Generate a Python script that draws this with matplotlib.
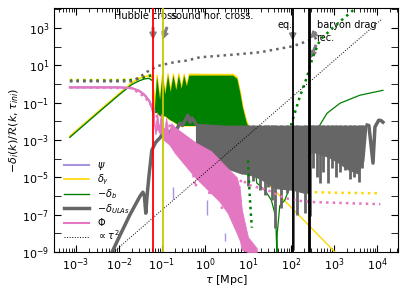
import numpy as np
import matplotlib.pyplot as plt
from matplotlib.ticker import NullFormatter

plt.rcParams['font.family'] = ['DejaVu Sans']
plt.rcParams['mathtext.fontset'] = 'dejavusans'

# ---- values ----
# k1 (solid), smooth early parts
early_tau = [7.2e-4, 3.6e-3, 0.01, 0.02, 0.03, 0.04, 0.05, 0.058]
dgamma_early = [1.6e-3, 0.04, 0.3, 1.2, 2.0, 2.5, 2.7, 2.3]
dbar_early = [1.4e-3, 0.035, 0.26, 0.95, 1.5, 1.9, 2.0, 1.6]

phi_tau = [7.2e-4, 0.01, 0.02, 0.03, 0.04, 0.05, 0.058, 0.064]
phi_val = [0.66, 0.66, 0.6, 0.42, 0.25, 0.13, 0.056, 0.027]

# acoustic oscillations: peaks / troughs, then envelope of the dense part
osc_tau = [0.058, 0.062, 0.066, 0.075, 0.088, 0.1, 0.117, 0.135, 0.155, 0.18,
           0.21, 0.24, 0.28, 0.32, 0.37, 0.42, 0.5, 1.0, 3.0, 4.4, 5.5, 6.5,
           7.4, 9.0, 10.5]
dbar_osc = [1.6, 0.5, 0.04, 2.6, 0.15, 3.1, 0.3, 3.1, 0.4, 3.0, 0.5, 3.0,
            0.6, 3.0, 0.8, 3.0, 3.0, 3.0, 3.0, 3.0, 2.0, 0.33, 0.06, 0.01, 4e-3]
dgamma_osc = [2.3, 0.6, 0.05, 3.2, 0.18, 3.8, 0.35, 3.8, 0.5, 3.7, 0.6, 3.7,
              0.7, 3.6, 0.9, 3.6, 3.6, 3.5, 3.5, 3.5, 2.4, 0.4, 0.07, 0.012, 5e-3]
osc_low = [1.6, 0.5, 0.03, 0.03, 0.02, 0.02, 0.02, 0.015, 0.012, 0.01, 8e-3,
           6e-3, 6e-3, 6e-3, 6e-3, 6e-3, 6e-3, 6e-3, 6e-3, 6e-3, 6e-3, 6e-3,
           6e-3, 4e-3, 3e-3]

phi_band_tau = [0.064, 0.07, 0.077, 0.085, 0.095, 0.11, 0.125, 0.145, 0.165,
                0.2, 0.59, 1.4, 2.2, 3.4, 5.5, 6.5, 7.2, 10, 16]
phi_band_top = [0.027, 3e-3, 0.031, 4e-3, 0.025, 2.5e-3, 0.015, 1.5e-3, 8e-3,
                4.8e-3, 7.6e-4, 2.5e-4, 8.3e-5, 3e-5, 1e-5, 2.1e-6, 1.8e-7,
                6.3e-9, 1.6e-9]
phi_band_low = [0.01, 2e-3, 5e-3, 2.5e-3, 2.3e-3, 1e-3, 8e-4, 6e-4, 4e-4,
                2e-4, 1e-5, 1.4e-6, 5e-7, 1.2e-7, 1e-8, 4e-9, 1.3e-9, 1e-9, 1e-9]
psi_spike_tau = [0.18, 1.1, 3.0, 6.0]
psi_spike_low = [7e-7, 1e-7, 4e-9, 2e-8]
psi_spike_top = [3e-6, 6e-7, 1e-8, 2e-7]

# late k1 branches
dgamma_late_tau = [10.5, 12, 20, 50, 1050]
dgamma_late_val = [5e-3, 1e-4, 1e-5, 1.3e-6, 1e-9]
dbar_late_tau = [12, 16, 25, 35, 44, 47, 48, 55, 72, 150, 300, 470, 690, 1380, 4000, 13800]
dbar_late_val = [3e-3, 5e-6, 2e-6, 6e-7, 8e-8, 1e-9, 1e-8, 3e-7, 6e-7, 5e-5, 1.2e-3,
                 6.3e-3, 0.027, 0.093, 0.25, 0.46]

# ULA, k1
ula_tau = [6.9e-3, 0.0106, 0.018, 0.031, 0.036, 0.039, 0.042, 0.045, 0.05, 0.058,
           0.07, 0.08, 0.09, 0.105, 0.12, 0.14, 0.16, 0.18, 0.21, 0.26, 0.3, 0.35,
           0.4, 0.45, 0.5, 0.6]
ula_val = [1e-9, 8e-9, 1e-7, 1e-6, 1.6e-6, 1e-6, 1.2e-7, 1e-6, 1.3e-5, 2.8e-4,
           7e-4, 1e-3, 1.3e-3, 2.3e-3, 1.5e-3, 1.8e-3, 3e-3, 4.3e-3, 3e-3, 8e-3,
           6e-3, 1.2e-2, 2.1e-2, 9e-3, 1.5e-2, 8e-3]
ula_band_tau = [0.6, 3, 7, 10, 19, 42, 110, 200, 265, 272, 280, 360, 720, 1230,
                2100, 3600, 5000, 5900]
ula_band_low = [1e-4, 3e-5, 1.5e-5, 1.4e-5, 8e-6, 2.5e-6, 2e-6, 1.4e-6, 1.4e-6,
                8e-7, 2e-4, 2e-4, 1.2e-4, 6e-5, 2.5e-5, 1.5e-5, 8e-5, 6.3e-3]
ula_band_top = [8e-3] + [6.3e-3] * 17
ula_spike_tau = [10, 13, 19, 25, 30, 36, 42, 60, 81, 110, 135, 210, 275, 330,
                 400, 470, 560, 720, 900, 1100, 1400, 1800, 2400, 3000, 3900, 4500]
ula_spike_low = [3.3e-6, 6e-6, 2.1e-6, 1.1e-6, 3e-6, 6e-7, 1.9e-8, 2.2e-7, 1.4e-6,
                 1.3e-9, 9.5e-8, 1.2e-7, 9e-8, 3e-5, 1e-5, 4.9e-6, 2e-5, 4.9e-6,
                 3e-5, 1e-5, 2e-5, 2.5e-5, 8e-6, 1e-5, 5.5e-6, 3e-5]
ula_tail_tau = [5900, 6500, 8100, 9000, 11000, 12500, 13800]
ula_tail_val = [6.3e-3, 6e-3, 5.8e-5, 5e-3, 1.15e-2, 1.1e-2, 9e-3]

# k2 (dotted)
ula2_tau = [7.2e-4, 0.02, 0.03, 0.045, 0.076, 0.2, 0.38, 0.76, 5, 19, 110, 360, 420]
ula2_val = [1.4, 1.4, 2.3, 4.5, 9, 15, 18, 27, 38, 50, 105, 275, 330]
dgamma2_tau = [7.2e-4, 0.01, 0.02, 0.035, 0.05, 0.06]
dgamma2_val = [1.65, 1.65, 1.8, 2.3, 3.0, 3.2]
dgamma2_late_tau = [360, 1000, 11700]
dgamma2_late_val = [1.6e-6, 1.5e-6, 1.4e-6]
dbar2_tau = [7.2e-4, 0.01, 0.02, 0.035, 0.05, 0.06]
dbar2_val = [1.5, 1.5, 1.6, 2.1, 2.7, 2.9]
dbar2_col_tau = [10, 11, 12.3]
dbar2_col_val = [8e-5, 1e-6, 2e-8]
dbar2_late_tau = [100, 160, 235, 320, 470, 960, 2750, 3300]
dbar2_late_val = [6e-3, 0.2, 2.3, 27, 220, 1070, 8700, 1.2e4]
phi2_tau = [7.2e-4, 0.02, 0.04, 0.06, 0.075, 0.085, 0.1, 0.12, 0.15, 0.18, 0.22,
            0.3, 0.4, 0.6, 0.9, 1.3, 1.8, 2.5, 3.5, 5, 7, 10, 28, 72, 160, 360,
            1e4, 1.2e4]
phi2_val = [0.66, 0.6, 0.2, 0.06, 0.02, 3e-3, 0.015, 1e-3, 6e-3, 3e-4, 2e-3,
            1e-4, 6e-4, 3e-6, 2e-4, 1e-6, 5e-5, 2e-7, 2e-5, 3e-7, 8e-6, 4e-6,
            2.1e-6, 7.7e-7, 5.5e-7, 4.7e-7, 3.7e-7, 3.6e-7]

tau2_tau = [7.5e-3, 1.32e4]
tau2_val = [1e-9, 3.1e3]

t_hubble, t_sound, t_eq, t_rec, t_drag = 0.062, 0.105, 110, 270, 278

c_psi, c_gam, c_bar, c_ula, c_phi = '#a993dc', '#ffd700', 'green', '#666666', '#e377c2'

fig = plt.figure(figsize=(4.07, 2.91), dpi=100)
ax = fig.add_axes([0.133, 0.134, 0.845, 0.839])

# photons
ax.plot(early_tau, dgamma_early, color=c_gam, lw=1.2, zorder=2)
ax.fill_between(osc_tau, osc_low, dgamma_osc, color=c_gam, lw=0.8, edgecolor=c_gam, zorder=2)
ax.plot(dgamma_late_tau, dgamma_late_val, color=c_gam, lw=1, zorder=2)
# baryons
ax.plot(early_tau, dbar_early, color=c_bar, lw=1, zorder=3)
ax.fill_between(osc_tau, osc_low, dbar_osc, color=c_bar, lw=0, zorder=3)
ax.plot(dbar_late_tau, dbar_late_val, color=c_bar, lw=0.9, zorder=3)
# psi (mostly under phi)
ax.plot(phi_tau, phi_val, color=c_psi, lw=1.5, zorder=3)
ax.vlines(psi_spike_tau, psi_spike_low, psi_spike_top, color=c_psi, lw=1, zorder=4.5)
# ULAs
ax.plot(ula_tau, ula_val, color=c_ula, lw=2.5, zorder=4)
ax.fill_between(ula_band_tau, ula_band_low, ula_band_top, color=c_ula, lw=0, zorder=4)
ax.vlines(ula_spike_tau, ula_spike_low, 6.3e-3, color=c_ula, lw=2, zorder=4)
ax.plot(ula_tail_tau, ula_tail_val, color=c_ula, lw=2.5, zorder=4)
# phi
ax.plot(phi_tau, phi_val, color=c_phi, lw=1.5, zorder=5)
ax.fill_between(phi_band_tau, phi_band_low, phi_band_top, color=c_phi, lw=0.6,
                edgecolor=c_phi, zorder=5)

# second mode, dotted
dot = dict(ls=':', lw=1.8, zorder=6)
ax.plot(dgamma2_tau, dgamma2_val, color=c_gam, **dot)
ax.plot(dgamma2_late_tau, dgamma2_late_val, color=c_gam, **dot)
ax.plot(dbar2_tau, dbar2_val, color=c_bar, **dot)
ax.plot(dbar2_col_tau, dbar2_col_val, color=c_bar, **dot)
ax.plot(dbar2_late_tau, dbar2_late_val, color=c_bar, **dot)
ax.plot(phi2_tau, phi2_val, color=c_phi, **dot)
ax.plot(ula2_tau, ula2_val, color=c_ula, **dot)

ax.plot(tau2_tau, tau2_val, color='k', ls=':', lw=0.7, zorder=7)

# event lines
ax.axvline(t_hubble, color='red', lw=1.3, zorder=7)
ax.axvline(t_sound, color='#c8c800', lw=1.3, zorder=7)
for t in (t_eq, t_rec, t_drag):
    ax.axvline(t, color='k', lw=1.3, zorder=7)

arr = dict(facecolor='gray', edgecolor='gray', width=1.2, headwidth=4.5,
           headlength=4.5, shrink=0)
fs = 7
ax.text(0.045, 10**3.62, 'Hubble cross.', fontsize=fs, ha='center', va='center')
ax.text(1.45, 10**3.62, 'sound hor. cross.', fontsize=fs, ha='center', va='center')
ax.text(72, 10**3.14, 'eq.', fontsize=fs, ha='center', va='center')
ax.text(2000, 10**3.14, 'baryon drag', fontsize=fs, ha='center', va='center')
ax.text(620, 10**2.44, 'rec.', fontsize=fs, ha='center', va='center')
ax.annotate('', xy=(t_hubble, 275), xytext=(t_hubble, 1070), arrowprops=arr)
ax.annotate('', xy=(t_sound, 275), xytext=(0.13, 1070), arrowprops=arr)
ax.annotate('', xy=(110, 10**2.39), xytext=(110, 10**2.76), arrowprops=arr)
ax.annotate('', xy=(290, 10**2.49), xytext=(380, 10**2.76), arrowprops=arr)
ax.annotate('', xy=(290, 10**1.43), xytext=(380, 10**2.07), arrowprops=arr)

ax.set_xscale('log')
ax.set_yscale('log')
ax.set_xlim(3.1e-4, 3.1e4)
ax.set_ylim(1e-9, 1.2e4)
ax.set_xticks([1e-3, 1e-2, 1e-1, 1, 1e1, 1e2, 1e3, 1e4])
ax.set_yticks([1e-9, 1e-7, 1e-5, 1e-3, 1e-1, 1e1, 1e3])
ax.set_yticks([1e-8, 1e-6, 1e-4, 1e-2, 1, 1e2, 1e4], minor=True)
ax.xaxis.set_minor_formatter(NullFormatter())
ax.yaxis.set_minor_formatter(NullFormatter())
ax.tick_params(which='both', direction='in', top=True, right=True, labelsize=8)
ax.tick_params(which='major', length=5)
ax.tick_params(which='minor', length=3)
ax.tick_params(axis='y', which='minor', length=5)
ax.set_xlabel(r'$\tau$ [Mpc]', fontsize=8, labelpad=0)
ax.set_ylabel(r'$-\delta_i(k)/\mathcal{R}(k,\tau_{ini})$', fontsize=8, labelpad=1)

handles = [
    plt.Line2D([], [], color=c_psi, lw=1.5),
    plt.Line2D([], [], color=c_gam, lw=1.2),
    plt.Line2D([], [], color=c_bar, lw=1),
    plt.Line2D([], [], color=c_ula, lw=2.5),
    plt.Line2D([], [], color=c_phi, lw=1.5),
    plt.Line2D([], [], color='k', ls=':', lw=0.7),
]
labels = [r'$\psi$', r'$\delta_\gamma$', r'$-\delta_b$', r'$-\delta_{ULAs}$',
          r'$\Phi$', r'$\propto\tau^2$']
ax.legend(handles, labels, loc='lower left', frameon=False, fontsize=7,
          handlelength=2.6, labelspacing=0.05, borderaxespad=0.6)

fig.savefig('out.png', dpi=100)
